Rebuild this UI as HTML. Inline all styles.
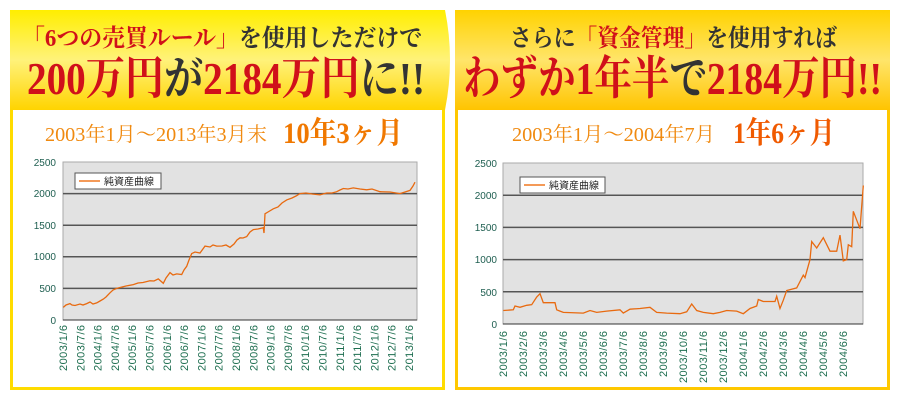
<!DOCTYPE html>
<html><head><meta charset="utf-8"><style>
body{margin:0;background:#fff;}
svg{display:block;}
</style></head><body>
<svg width="900" height="400" viewBox="0 0 900 400" xmlns="http://www.w3.org/2000/svg">
<defs>
<linearGradient id="gl" x1="0" y1="0" x2="0" y2="1"><stop offset="0" stop-color="#ffee00"/><stop offset="0.5" stop-color="#fff27a"/><stop offset="1" stop-color="#ffd400"/></linearGradient>
<linearGradient id="gr" x1="0" y1="0" x2="0" y2="1"><stop offset="0" stop-color="#ffd200"/><stop offset="0.5" stop-color="#ffe56a"/><stop offset="1" stop-color="#ffc400"/></linearGradient>
</defs>
<rect x="455" y="10" width="435" height="380" fill="#ffc800"/>
<rect x="458" y="110" width="429" height="277" fill="#fff"/>
<rect x="455" y="10" width="435" height="100" fill="url(#gr)"/>
<rect x="10" y="10" width="435" height="380" fill="#ffdc00"/>
<rect x="13" y="110" width="429" height="277" fill="#fff"/>
<path d="M10 10 H445 Q455 60 445 110 H10 Z" fill="url(#gl)"/>
<g font-family="'Liberation Serif','Noto Serif CJK SC',serif" font-weight="bold">
<text x="22" y="46" font-size="24" fill="#333" textLength="400" lengthAdjust="spacingAndGlyphs"><tspan fill="#d0101a">「6つの売買ルール」</tspan>を使用しただけで</text>
<text x="27" y="94" font-size="46" fill="#d0101a" textLength="398" lengthAdjust="spacingAndGlyphs">200万円<tspan fill="#333">が</tspan>2184万円<tspan fill="#333">に!!</tspan></text>
<text x="510" y="46" font-size="24" fill="#333" textLength="327" lengthAdjust="spacingAndGlyphs">さらに<tspan fill="#d0101a">「資金管理」</tspan>を使用すれば</text>
<text x="463" y="94" font-size="46" fill="#d0101a" textLength="419" lengthAdjust="spacingAndGlyphs">わずか1年半<tspan fill="#333">で</tspan>2184万円!!</text>
</g>
<g font-family="'Liberation Serif','Noto Serif CJK SC',serif" fill="#f08a10">
<text x="45" y="141" font-size="20" textLength="222" lengthAdjust="spacingAndGlyphs">2003年1月～2013年3月末</text>
<text x="283" y="143" font-size="30" font-weight="bold" fill="#f07800" textLength="120" lengthAdjust="spacingAndGlyphs">10年3ヶ月</text>
<text x="512" y="141" font-size="20" textLength="203" lengthAdjust="spacingAndGlyphs">2003年1月～2004年7月</text>
<text x="733" y="143" font-size="30" font-weight="bold" fill="#f05a00" textLength="102" lengthAdjust="spacingAndGlyphs">1年6ヶ月</text>
</g>
<!-- left chart -->
<rect x="63" y="162" width="354" height="158" fill="#e2e2e2" stroke="#aaa"/>
<g stroke="#555" stroke-width="1.5">
<line x1="63" y1="193.6" x2="417" y2="193.6"/><line x1="63" y1="225.2" x2="417" y2="225.2"/><line x1="63" y1="256.8" x2="417" y2="256.8"/><line x1="63" y1="288.4" x2="417" y2="288.4"/></g>
<line x1="63" y1="320" x2="417" y2="320" stroke="#333"/>
<g font-family="'Liberation Sans',sans-serif" font-size="10" fill="#1e5e50" text-anchor="end">
<text x="56" y="166">2500</text><text x="56" y="197">2000</text><text x="56" y="229">1500</text><text x="56" y="260">1000</text><text x="56" y="292">500</text><text x="56" y="324">0</text></g>
<rect x="75" y="173" width="86" height="16" fill="#fff" stroke="#555"/>
<line x1="79" y1="181" x2="100" y2="181" stroke="#f07820" stroke-width="1.5"/>
<text x="104" y="185" font-family="'Liberation Sans','Noto Sans CJK JP',sans-serif" font-size="10" fill="#222">純資産曲線</text>
<polyline fill="none" stroke="#e86a10" stroke-width="1.3" points="63.3,307.4 66,305 70,303.6 72,305 75,305.5 80,304 83,305 86.7,303.6 90,302 93,304 96.7,302.9 100,301 103.3,299.1 106,297 110,292.8 113,290 116.7,288.4 122,287 126,286 133.3,284.6 138,283 143,282.5 150,280.8 154,281 158.3,278.9 163.3,283.3 166,278 170,272.6 173,275 176.7,273.9 181.7,274.5 184,270 186.7,266.3 189,260 191.7,253.6 195,252 200,253 205,246.1 210,247 213,245 216.7,246.1 222,246 226,245 230,247.3 234,244 237,240 240,237.8 243,238 246.7,236.6 250,232 253.3,229.6 258,229 263.3,227.7 264,233 265,213.8 268,212 273.3,208.8 278,207 282,203 286.7,199.9 292,198 296,196 300,193.6 306,193 312,194 320,194.9 326.7,193 332,193 336.7,191.7 340,190 343.3,188.5 348,189 353.3,187.9 360,189 366.7,189.8 372,189 380,191.7 390,192 400,193.6 405,192 410,190.4 413,186 415,182.2"/>
<!-- right chart -->
<rect x="503" y="163" width="360" height="161" fill="#e2e2e2" stroke="#aaa"/>
<g stroke="#555" stroke-width="1.5">
<line x1="503" y1="195.2" x2="863" y2="195.2"/><line x1="503" y1="227.4" x2="863" y2="227.4"/><line x1="503" y1="259.6" x2="863" y2="259.6"/><line x1="503" y1="291.8" x2="863" y2="291.8"/></g>
<line x1="503" y1="324" x2="863" y2="324" stroke="#333"/>
<g font-family="'Liberation Sans',sans-serif" font-size="10" fill="#1e5e50" text-anchor="end">
<text x="497" y="167">2500</text><text x="497" y="199">2000</text><text x="497" y="231">1500</text><text x="497" y="263">1000</text><text x="497" y="296">500</text><text x="497" y="328">0</text></g>
<rect x="520" y="177" width="85" height="16" fill="#fff" stroke="#555"/>
<line x1="524" y1="185" x2="545" y2="185" stroke="#f07820" stroke-width="1.5"/>
<text x="549" y="189" font-family="'Liberation Sans','Noto Sans CJK JP',sans-serif" font-size="10" fill="#222">純資産曲線</text>
<polyline fill="none" stroke="#e86a10" stroke-width="1.3" points="503.3,310.5 513.3,309.8 515,306 520,307.3 526.7,305.3 531.7,304.7 536.7,297 540,293.7 543.3,302.7 555,302.7 556.7,309.8 560,311.1 563.3,312.4 583.3,313.1 590,310.5 596.7,312.4 606.7,311.1 620,309.8 623.3,313.1 630,309.2 640,308.5 650,307.3 656.7,312.4 666.7,313.1 680,313.7 686.7,311.8 691.7,304 696.7,310.5 703.3,312.4 713.3,313.7 720,312.4 726.7,310.5 736.7,311.1 743.3,313.7 750,308.5 756.7,306 758.3,299.5 763.3,301.5 775,301.5 776.7,296.3 780,308.5 783.3,300.2 786.7,290.5 796.7,287.9 803.3,275.1 805,277.6 810,259.6 811.7,241.6 816.7,248 823.3,237.7 830,251.2 836.7,251.2 840,235.1 843.3,260.9 846.7,259.6 848.3,244.8 851.7,246.7 853.3,211.3 860,228.7 863.3,185.5"/>
<!-- x labels -->
<g font-family="'Liberation Sans',sans-serif" font-size="11" fill="#1e6e50" text-anchor="end">
<g lengthAdjust="spacingAndGlyphs">
<text transform="translate(67,325) rotate(-90)" textLength="46">2003/1/6</text>
<text transform="translate(84.3,325) rotate(-90)" textLength="46">2003/7/6</text>
<text transform="translate(101.6,325) rotate(-90)" textLength="46">2004/1/6</text>
<text transform="translate(118.9,325) rotate(-90)" textLength="46">2004/7/6</text>
<text transform="translate(136.2,325) rotate(-90)" textLength="46">2005/1/6</text>
<text transform="translate(153.5,325) rotate(-90)" textLength="46">2005/7/6</text>
<text transform="translate(170.8,325) rotate(-90)" textLength="46">2006/1/6</text>
<text transform="translate(188.1,325) rotate(-90)" textLength="46">2006/7/6</text>
<text transform="translate(205.4,325) rotate(-90)" textLength="46">2007/1/6</text>
<text transform="translate(222.7,325) rotate(-90)" textLength="46">2007/7/6</text>
<text transform="translate(240,325) rotate(-90)" textLength="46">2008/1/6</text>
<text transform="translate(257.3,325) rotate(-90)" textLength="46">2008/7/6</text>
<text transform="translate(274.6,325) rotate(-90)" textLength="46">2009/1/6</text>
<text transform="translate(291.9,325) rotate(-90)" textLength="46">2009/7/6</text>
<text transform="translate(309.2,325) rotate(-90)" textLength="46">2010/1/6</text>
<text transform="translate(326.5,325) rotate(-90)" textLength="46">2010/7/6</text>
<text transform="translate(343.8,325) rotate(-90)" textLength="46">2011/1/6</text>
<text transform="translate(361.1,325) rotate(-90)" textLength="46">2011/7/6</text>
<text transform="translate(378.4,325) rotate(-90)" textLength="46">2012/1/6</text>
<text transform="translate(395.7,325) rotate(-90)" textLength="46">2012/7/6</text>
<text transform="translate(413,325) rotate(-90)" textLength="46">2013/1/6</text>

<text transform="translate(507,331) rotate(-90)" textLength="46">2003/1/6</text>
<text transform="translate(527,331) rotate(-90)" textLength="46">2003/2/6</text>
<text transform="translate(547,331) rotate(-90)" textLength="46">2003/3/6</text>
<text transform="translate(567,331) rotate(-90)" textLength="46">2003/4/6</text>
<text transform="translate(587,331) rotate(-90)" textLength="46">2003/5/6</text>
<text transform="translate(607,331) rotate(-90)" textLength="46">2003/6/6</text>
<text transform="translate(627,331) rotate(-90)" textLength="46">2003/7/6</text>
<text transform="translate(647,331) rotate(-90)" textLength="46">2003/8/6</text>
<text transform="translate(667,331) rotate(-90)" textLength="46">2003/9/6</text>
<text transform="translate(687,331) rotate(-90)" textLength="52">2003/10/6</text>
<text transform="translate(707,331) rotate(-90)" textLength="52">2003/11/6</text>
<text transform="translate(727,331) rotate(-90)" textLength="52">2003/12/6</text>
<text transform="translate(747,331) rotate(-90)" textLength="46">2004/1/6</text>
<text transform="translate(767,331) rotate(-90)" textLength="46">2004/2/6</text>
<text transform="translate(787,331) rotate(-90)" textLength="46">2004/3/6</text>
<text transform="translate(807,331) rotate(-90)" textLength="46">2004/4/6</text>
<text transform="translate(827,331) rotate(-90)" textLength="46">2004/5/6</text>
<text transform="translate(847,331) rotate(-90)" textLength="46">2004/6/6</text>
</g>
</g>
</svg>
</body></html>
